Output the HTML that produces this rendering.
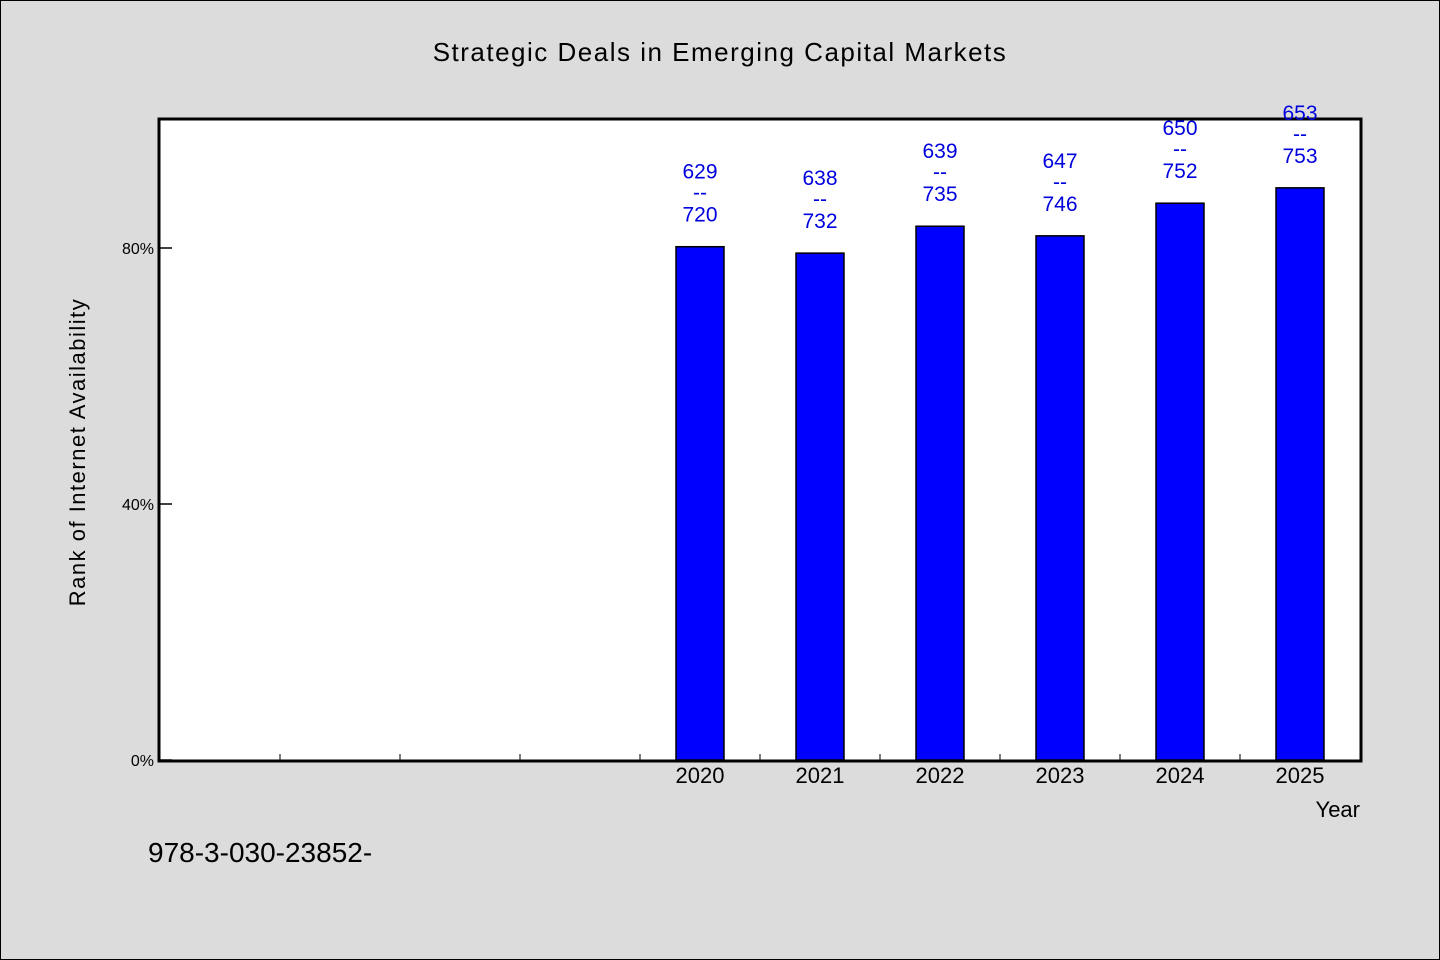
<!DOCTYPE html>
<html><head><meta charset="utf-8"><style>
html,body{margin:0;padding:0;background:#dcdcdc;}
svg{display:block;font-family:"WenQuanYi Zen Hei","Liberation Sans",sans-serif;}
</style></head><body>
<svg id="chart" width="1440" height="960">
<rect x="0.5" y="0.5" width="1439" height="959" fill="#dcdcdc" stroke="#000"/>
<text x="720" y="61" text-anchor="middle" font-size="26" letter-spacing="1.5">Strategic Deals in Emerging Capital Markets</text>
<rect x="159" y="119" width="1202" height="642" fill="#fff" stroke="#000" stroke-width="3"/>
<text transform="translate(85,452) rotate(-90)" text-anchor="middle" font-size="22" letter-spacing="1.5">Rank of Internet Availability</text>
<text x="1360" y="817" text-anchor="end" font-size="22">Year</text>
<text x="148" y="862" font-size="28">978-3-030-23852-</text>
<g id="g"></g>
</svg>
<script>
const categories=["","","","","2020","2021","2022","2023","2024","2025"];
const values=[null,null,null,null,80.2,79.2,83.4,81.9,87.0,89.4];
const lowLabels=[null,null,null,null,"629","638","639","647","650","653"];
const highLabels=[null,null,null,null,"720","732","735","746","752","753"];
const yTicks=[0,40,80];
const NS="http://www.w3.org/2000/svg";
const X0=160,X1=1360,Y0=760,Y1=120;
const slot=(X1-X0)/categories.length;
const xc=i=>X0+slot*(i+0.5);
const y=v=>Y0-(v/100)*(Y0-Y1);
const g=document.getElementById('g');
function mk(t,a){const e=document.createElementNS(NS,t);for(const k in a)e.setAttribute(k,a[k]);g.appendChild(e);return e;}
yTicks.forEach(t=>{
 const l=mk('line',{x1:X0,x2:X0+12,y1:y(t),y2:y(t),stroke:'#000','stroke-width':1.5});
 
 
 const tx=mk('text',{x:X0-6,y:y(t)+6,'text-anchor':'end','font-size':16});
 tx.textContent=t+'%';
 
 
});
for(let i=1;i<categories.length;i++){
 const xx=X0+slot*i;
 const l=mk('line',{x1:xx,x2:xx,y1:Y0,y2:Y0-6,stroke:'#000','stroke-width':1});
 
 
}
categories.forEach((c,i)=>{
 if(c){const t=mk('text',{x:xc(i),y:Y0+23,'text-anchor':'middle','font-size':22});t.textContent=c;
 
 }
 if(values[i]==null)return;
 const top=y(values[i]);
 const b=mk('rect',{x:xc(i)-24,y:top,width:48,height:Y0-top,fill:'#0000ff',stroke:'#000','stroke-width':1.5});
 
 
 [[lowLabels[i],-68],["--",-47],[highLabels[i],-25]].forEach(([s,dy])=>{
  const t=mk('text',{x:xc(i),y:top+dy,'text-anchor':'middle','font-size':21,fill:'#0000dd'});
  t.textContent=s;
  
  
 });
});
</script>
</body></html>
